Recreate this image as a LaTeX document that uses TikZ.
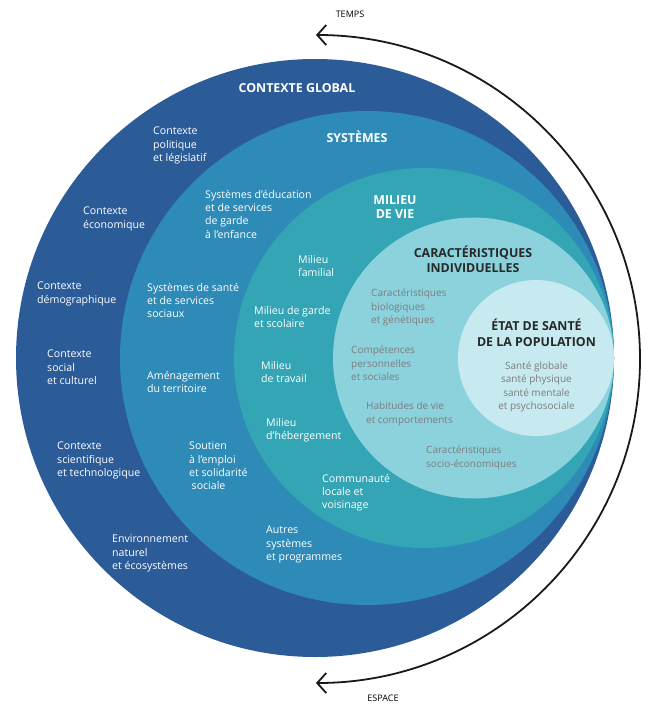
\documentclass[tikz,border=0pt]{standalone}
\usepackage{fontspec}
\setmainfont{Open Sans}
\usetikzlibrary{arrows.meta}
\definecolor{cglobal}{RGB}{44,92,152}
\definecolor{csys}{RGB}{46,139,183}
\definecolor{cmilieu}{RGB}{51,165,180}
\definecolor{ccar}{RGB}{139,210,221}
\definecolor{cetat}{RGB}{198,234,240}
\definecolor{cdark}{RGB}{40,40,40}
\definecolor{cgrey}{RGB}{125,125,125}
\tikzset{
  wtxt/.style={text=white, align=left, anchor=north west, inner sep=0pt, font=\fontsize{10.6}{13.3}\selectfont},
  gtxt/.style={text=cgrey, align=left, anchor=north west, inner sep=0pt, font=\fontsize{10}{13.3}\selectfont},
  whead/.style={text=white, align=center, inner sep=0pt, font=\bfseries\fontsize{12.4}{14.5}\selectfont},
  dhead/.style={text=cdark, align=center, inner sep=0pt, font=\bfseries\fontsize{12.4}{15.5}\selectfont},
  ctxt/.style={text=cgrey, align=center, inner sep=0pt, font=\fontsize{10}{13.3}\selectfont},
  ltxt/.style={text=black, inner sep=0pt, font=\fontsize{9}{10}\selectfont},
  bigarrow/.style={line width=1.8pt, draw=black!90, {Straight Barb[length=9pt,width=20pt,line width=1.8pt]}-{Straight Barb[length=9pt,width=20pt,line width=1.8pt]}}
}
\begin{document}
\begin{tikzpicture}[x=1pt,y=-1pt]
\useasboundingbox (0,0) rectangle (648,706);
% rings
\fill[cglobal] (315,358) circle[radius=299pt];
\fill[csys] (367,358) circle[radius=247pt];
\fill[cmilieu] (424,358) circle[radius=190pt];
\fill[ccar] (473.5,358) circle[radius=140.5pt];
\fill[cetat] (536,358) circle[radius=78pt];
% arrow
\coordinate (atop) at (316,35);
\coordinate (abot) at (316,683);
\draw[bigarrow] (atop) arc[start angle=90, end angle=-90, radius=324pt];
\node[ltxt] (temps) at (350,14) {TEMPS};
\node[ltxt] (espace) at (383,698) {ESPACE};
% headings
\node[whead] (hglobal) at (297,88) {CONTEXTE GLOBAL};
\node[whead] (hsys) at (357,137) {SYSTÈMES};
\node[whead] (hmil) at (395,207) {MILIEU\\DE VIE};
\node[dhead] (hcar) at (473,259.5) {CARACTÉRISTIQUES\\INDIVIDUELLES};
\node[dhead] (hetat) at (536.5,333) {ÉTAT DE SANTÉ\\DE LA POPULATION};
% contexte global
\node[wtxt] (g1) at (153,127) {Contexte\\politique\\et législatif};
\node[wtxt] (g2) at (83,207) {Contexte\\économique};
\node[wtxt] (g3) at (37,282) {Contexte\\démographique};
\node[wtxt] (g4) at (47,350) {Contexte\\social\\et culturel};
\node[wtxt] (g5) at (57,442) {Contexte\\scientifique\\et technologique};
\node[wtxt] (g6) at (112,535) {Environnement\\naturel\\et écosystèmes};
% systemes
\node[wtxt] (s1) at (205,190) {Systèmes d'éducation\\et de services\\de garde\\à l'enfance};
\node[wtxt] (s2) at (147,283) {Systèmes de santé\\et de services\\sociaux};
\node[wtxt] (s3) at (147,371) {Aménagement\\du territoire};
\node[wtxt] (s4) at (189,442) {Soutien\\à l'emploi\\et solidarité\\\hspace*{2.5pt}sociale};
\node[wtxt] (s5) at (266,526) {Autres\\systèmes\\et programmes};
% milieu de vie
\node[wtxt] (m1) at (298,255) {Milieu\\familial};
\node[wtxt] (m2) at (254,306) {Milieu de garde\\et scolaire};
\node[wtxt] (m3) at (261,361) {Milieu\\de travail};
\node[wtxt] (m4) at (266,418) {Milieu\\d'hébergement};
\node[wtxt] (m5) at (322,474) {Communauté\\locale et\\voisinage};
% caracteristiques
\node[gtxt] (c1) at (371,289) {Caractéristiques\\biologiques\\et génétiques};
\node[gtxt] (c2) at (351,346) {Compétences\\personnelles\\et sociales};
\node[gtxt] (c3) at (366,402) {Habitudes de vie\\et comportements};
\node[gtxt] (c4) at (426,446) {Caractéristiques\\socio-économiques};
% etat
\node[ctxt] (e1) at (536.5,387) {Santé globale\\santé physique\\santé mentale\\et psychosociale};
\end{tikzpicture}
\end{document}
